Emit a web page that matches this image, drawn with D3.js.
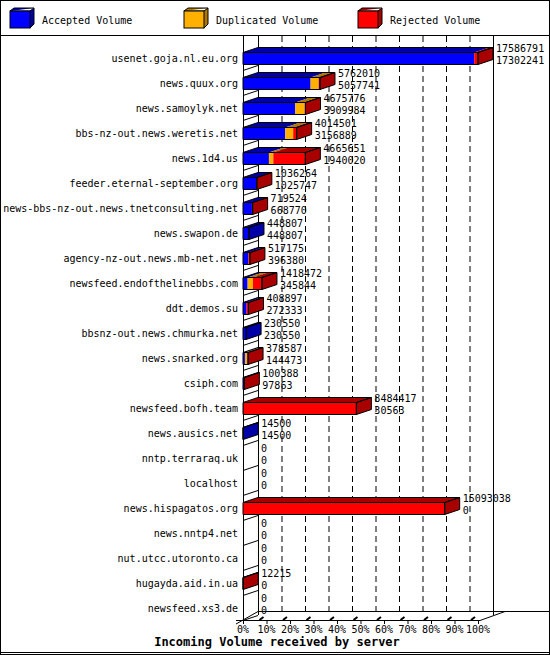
<!DOCTYPE html>
<html><head><meta charset="utf-8">
<script src="https://cdn.jsdelivr.net/npm/d3@7"></script>
<style>body{margin:0;background:#fff}text{font-family:"DejaVu Sans Mono",monospace}</style>
</head><body>
<svg id="c" width="550" height="655"></svg>
<script>
const servers = ['usenet.goja.nl.eu.org','news.quux.org','news.samoylyk.net','bbs-nz-out.news.weretis.net','news.1d4.us','feeder.eternal-september.org','news-bbs-nz-out.news.tnetconsulting.net','news.swapon.de','agency-nz-out.news.mb-net.net','newsfeed.endofthelinebbs.com','ddt.demos.su','bbsnz-out.news.chmurka.net','news.snarked.org','csiph.com','newsfeed.bofh.team','news.ausics.net','nntp.terraraq.uk','localhost','news.hispagatos.org','news.nntp4.net','nut.utcc.utoronto.ca','hugayda.aid.in.ua','newsfeed.xs3.de'];
const totalVol = [17586791,5762010,4675776,4014501,4665651,1036264,719524,448807,517175,1418472,408897,230550,378587,100388,8484417,14500,0,0,15093038,0,0,12215,0];
const acceptedVol = [17302241,5057741,3909984,3156889,1940020,1025747,668770,448807,396380,345844,272333,230550,144473,97863,30563,14500,0,0,0,0,0,0,0];
const duplicatedVol = [0,600000,700000,600000,330000,0,0,0,0,400000,0,0,200000,0,0,0,0,0,0,0,0,0,0];
const tickPct = [0,10,20,30,40,50,60,70,80,90,100];
const legend = ['Accepted Volume','Duplicated Volume','Rejected Volume'];
const colors = ['#0000ff','#ffb000','#ff0000'];
const darks = ['#0000a8','#b07800','#a80000'];

const svg = d3.select('#c');
const DX = 15, DY = -5;
const x0 = 243, x1 = 478;
const x = d3.scaleLinear().domain([0, d3.max(totalVol)]).range([x0, x1]);
const pct = d3.scaleLinear().domain([0, 100]).range([x0, x1]);
const y = d3.scaleBand().domain(servers).range([45.5, 620.5]);

// frame
svg.append('rect').attr('x',0.5).attr('y',0.5).attr('width',549).attr('height',654).attr('fill','none').attr('stroke','#000');
svg.append('line').attr('x1',0).attr('x2',550).attr('y1',35.5).attr('y2',35.5).attr('stroke','#000');
svg.append('line').attr('x1',0).attr('x2',550).attr('y1',652.5).attr('y2',652.5).attr('stroke','#000');

// legend
legend.forEach((l, i) => {
  const lx = 10 + i * 174, ly = 11;
  svg.append('path').attr('d',`M${lx},${ly}h20l4,-3v16l-4,4z M${lx},${ly}l4,-3h20`)
    .attr('fill',darks[i]).attr('stroke','#000');
  svg.append('rect').attr('x',lx).attr('y',ly).attr('width',20).attr('height',17).attr('fill',colors[i]).attr('stroke','#000');
  svg.append('text').attr('x',lx+32).attr('y',24).attr('font-size',10).text(l);
});

// walls
const g = svg.append('g');
g.append('line').attr('x1',x0+0.5).attr('x2',x0+0.5).attr('y1',36).attr('y2',621).attr('stroke','#000');
g.append('line').attr('x1',x0+DX+0.5).attr('x2',x0+DX+0.5).attr('y1',36).attr('y2',615).attr('stroke','#000');
g.append('line').attr('x1',x1+DX+0.5).attr('x2',x1+DX+0.5).attr('y1',36).attr('y2',615).attr('stroke','#000');
tickPct.slice(1, -1).forEach(p => {
  g.append('line').attr('x1',pct(p)+DX+0.5).attr('x2',pct(p)+DX+0.5).attr('y1',36).attr('y2',612)
    .attr('stroke','#000').attr('stroke-dasharray','6,4');
});
servers.forEach(s => {
  const b = y(s) + y.bandwidth();
  g.append('line').attr('x1',x0).attr('y1',b).attr('x2',x0+DX).attr('y2',b+DY).attr('stroke','#000');
});
// floor
g.append('line').attr('x1',x0+DX).attr('x2',550).attr('y1',611.5).attr('y2',611.5).attr('stroke','#000');
g.append('line').attr('x1',236).attr('x2',x1+2).attr('y1',620.5).attr('y2',620.5).attr('stroke','#000');
g.append('line').attr('x1',x1+2).attr('y1',620.5).attr('x2',x1+DX+12).attr('y2',611.5).attr('stroke','#000');
g.append('line').attr('x1',236).attr('y1',624).attr('x2',x0+DX).attr('y2',611.5).attr('stroke','#000');
tickPct.forEach(p => {
  g.append('line').attr('x1',pct(p)+0.5).attr('x2',pct(p)+0.5).attr('y1',620).attr('y2',624).attr('stroke','#000');
  if (p > 0) g.append('line').attr('x1',pct(p)-7).attr('y1',620).attr('x2',pct(p)-3).attr('y2',617).attr('stroke','#000').attr('stroke-width',2);
  g.append('text').attr('x',pct(p)).attr('y',633).attr('text-anchor','middle').attr('font-size',10).text(p + '%');
});

// bars
servers.forEach((s, i) => {
  const cy = y(s) + y.bandwidth() / 2;
  const top = cy - 5.5, h = 12;
  const rej = totalVol[i] - acceptedVol[i] - duplicatedVol[i];
  const segs = [acceptedVol[i], duplicatedVol[i], rej];
  g.append('text').attr('x',238).attr('y',cy+4).attr('text-anchor','end').attr('font-size',10).text(s);
  let end = x0;
  if (totalVol[i] > 0) {
    let acc = 0, last = 0;
    segs.forEach((v, k) => {
      if (v <= 0) return;
      const a = x(acc), b = x(acc + v);
      g.append('path').attr('d',`M${a},${top}l${DX},${DY}H${b+DX}L${b},${top}z`).attr('fill',darks[k]);
      g.append('rect').attr('x',a).attr('y',top).attr('width',b-a).attr('height',h).attr('fill',colors[k]);
      acc += v; last = k;
    });
    end = x(totalVol[i]);
    g.append('path').attr('d',`M${end},${top}l${DX},${DY}v${h}l${-DX},${-DY}z`).attr('fill',darks[last]).attr('stroke','#000');
    g.append('path').attr('d',`M${x0},${top}l${DX},${DY}H${end+DX}L${end},${top}H${x0}v${h}H${end}V${top}`)
      .attr('fill','none').attr('stroke','#000');
  }
  const lx = end + (totalVol[i] > 0 ? DX + 3 : 18);
  g.append('text').attr('x',lx).attr('y',cy-6).attr('font-size',10).text(totalVol[i]);
  g.append('text').attr('x',lx).attr('y',cy+6).attr('font-size',10).text(acceptedVol[i]);
});

svg.append('text').attr('x',277).attr('y',646).attr('text-anchor','middle').attr('font-size',12)
  .attr('font-weight','bold').text('Incoming Volume received by server');
</script>
</body></html>
